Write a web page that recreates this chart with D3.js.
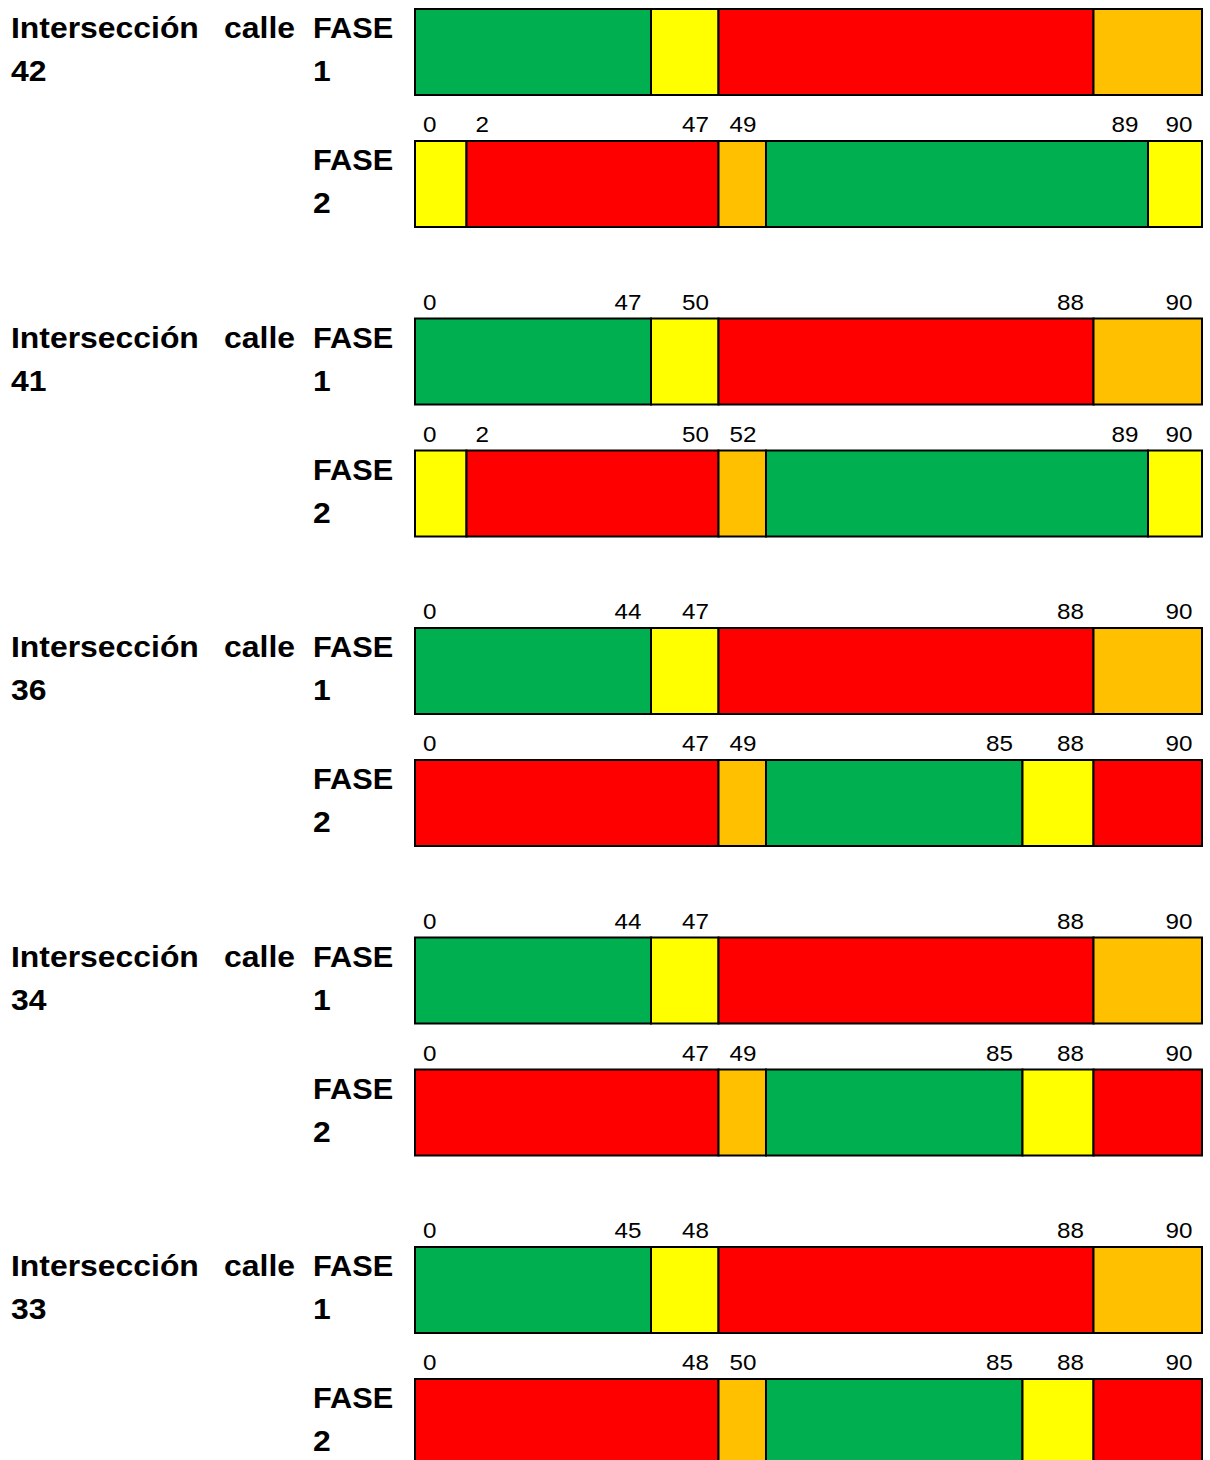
<!DOCTYPE html>
<html>
<head>
<meta charset="utf-8">
<script src="https://cdn.jsdelivr.net/npm/d3@7"></script>
<style>
  body { margin: 0; background: #fff; }
  svg { display: block; }
  text { font-family: "Liberation Sans", Arial, sans-serif; fill: #000; }
  .titulo { font-weight: bold; font-size: 29px; }
  .tiempo { font-size: 22px; }
</style>
</head>
<body>
<div id="chart"></div>
<script>

// intersecciones, de arriba abajo
var intersecciones = ["42", "41", "36", "34", "33"];

// instantes de cambio (s) dentro del ciclo de 90 s
// (la fila de tiempos de la fase 1 de la calle 42 queda fuera de la imagen: valores estimados)
var fase1Tiempos = [
    [0, 44, 47, 88, 90],
    [0, 47, 50, 88, 90],
    [0, 44, 47, 88, 90],
    [0, 44, 47, 88, 90],
    [0, 45, 48, 88, 90]
];
var fase1Luces = [
    ["verde", "amarillo", "rojo", "ambar"],
    ["verde", "amarillo", "rojo", "ambar"],
    ["verde", "amarillo", "rojo", "ambar"],
    ["verde", "amarillo", "rojo", "ambar"],
    ["verde", "amarillo", "rojo", "ambar"]
];

var fase2Tiempos = [
    [0, 2, 47, 49, 89, 90],
    [0, 2, 50, 52, 89, 90],
    [0, 47, 49, 85, 88, 90],
    [0, 47, 49, 85, 88, 90],
    [0, 48, 50, 85, 88, 90]
];
var fase2Luces = [
    ["amarillo", "rojo", "ambar", "verde", "amarillo"],
    ["amarillo", "rojo", "ambar", "verde", "amarillo"],
    ["rojo", "ambar", "verde", "amarillo", "rojo"],
    ["rojo", "ambar", "verde", "amarillo", "rojo"],
    ["rojo", "ambar", "verde", "amarillo", "rojo"]
];

// columnas de la tabla sin cambio en cada intersección
var columnasVacias = [[5], [5], [1, 7], [1, 7], [1, 7]];

var colores = {
    "verde": "#00b050",
    "amarillo": "#ffff00",
    "rojo": "#ff0000",
    "ambar": "#ffc000"
};

var W = 1210, H = 1460;
var x0 = 415;
// bordes de las columnas del diagrama (no está a escala)
var bordes = [0, 51.5, 236, 303.5, 351, 607.5, 678.5, 733, 787];
var alto = 86, sepFase = 132, sepBloque = 309.5, top0 = 9;

var svg = d3.select("#chart").append("svg")
    .attr("width", W)
    .attr("height", H);

function texto(g, str, x, y, cls, anchor, sx) {
    return g.append("text")
        .attr("class", cls)
        .attr("text-anchor", anchor || "start")
        .attr("transform", "translate(" + x + "," + y + ") scale(" + sx + ",1)")
        .text(str);
}

intersecciones.forEach(function(nombre, i) {

    var fases = [
        { tiempos: fase1Tiempos[i], luces: fase1Luces[i] },
        { tiempos: fase2Tiempos[i], luces: fase2Luces[i] }
    ];

    // escala por tramos: cada instante cae en su columna de la tabla
    var cortes = Array.from(new Set(fases[0].tiempos.concat(fases[1].tiempos))).sort(d3.ascending);
    var cols = d3.range(bordes.length).filter(function(c) {
        return columnasVacias[i].indexOf(c) < 0;
    });
    var x = d3.scaleLinear()
        .domain(cortes)
        .range(cols.map(function(c) { return x0 + bordes[c]; }));

    var bloque = svg.append("g").attr("class", "bloque");
    var yb = top0 + i * sepBloque;

    texto(bloque, "Intersección", 11, yb + 29, "titulo", "start", 1.1);
    texto(bloque, "calle", 295, yb + 29, "titulo", "end", 1.1);
    texto(bloque, nombre, 11, yb + 72, "titulo", "start", 1.1);

    fases.forEach(function(f, k) {
        var y = yb + k * sepFase;

        texto(bloque, "FASE", 313, y + 29, "titulo", "start", 1.06);
        texto(bloque, String(k + 1), 313, y + 72, "titulo", "start", 1.1);

        var tramos = f.luces.map(function(l, j) {
            return { luz: l, t0: f.tiempos[j], t1: f.tiempos[j + 1] };
        });

        bloque.append("g").selectAll("rect")
            .data(tramos)
            .enter().append("rect")
            .attr("x", function(d) { return x(d.t0); })
            .attr("y", y)
            .attr("width", function(d) { return x(d.t1) - x(d.t0); })
            .attr("height", alto)
            .attr("fill", function(d) { return colores[d.luz]; })
            .attr("stroke", "#000")
            .attr("stroke-width", 2);

        // etiquetas de tiempo sobre la barra
        var fs = 22, sx = 1.1, ancho = function(s) { return s.length * 0.556 * fs * sx; };
        var prevFin = -Infinity;
        var etiquetas = f.tiempos.map(function(t, j) {
            var s = String(t), px = x(t), anchor, ini;
            if (j === 0) {
                anchor = "start"; px = px + 8; ini = px;
            } else {
                anchor = "end"; px = px - 9.5; ini = px - ancho(s);
                if (ini - prevFin < 15) {
                    anchor = "start"; px = x(t) + 9; ini = px;
                }
            }
            prevFin = ini + ancho(s);
            return { s: s, x: px, anchor: anchor, y: y - 9 };
        }).filter(function(d) { return d.y - fs > 0; });

        etiquetas.forEach(function(d) {
            texto(bloque, d.s, d.x, d.y, "tiempo", d.anchor, sx);
        });
    });
});

</script>
</body>
</html>
